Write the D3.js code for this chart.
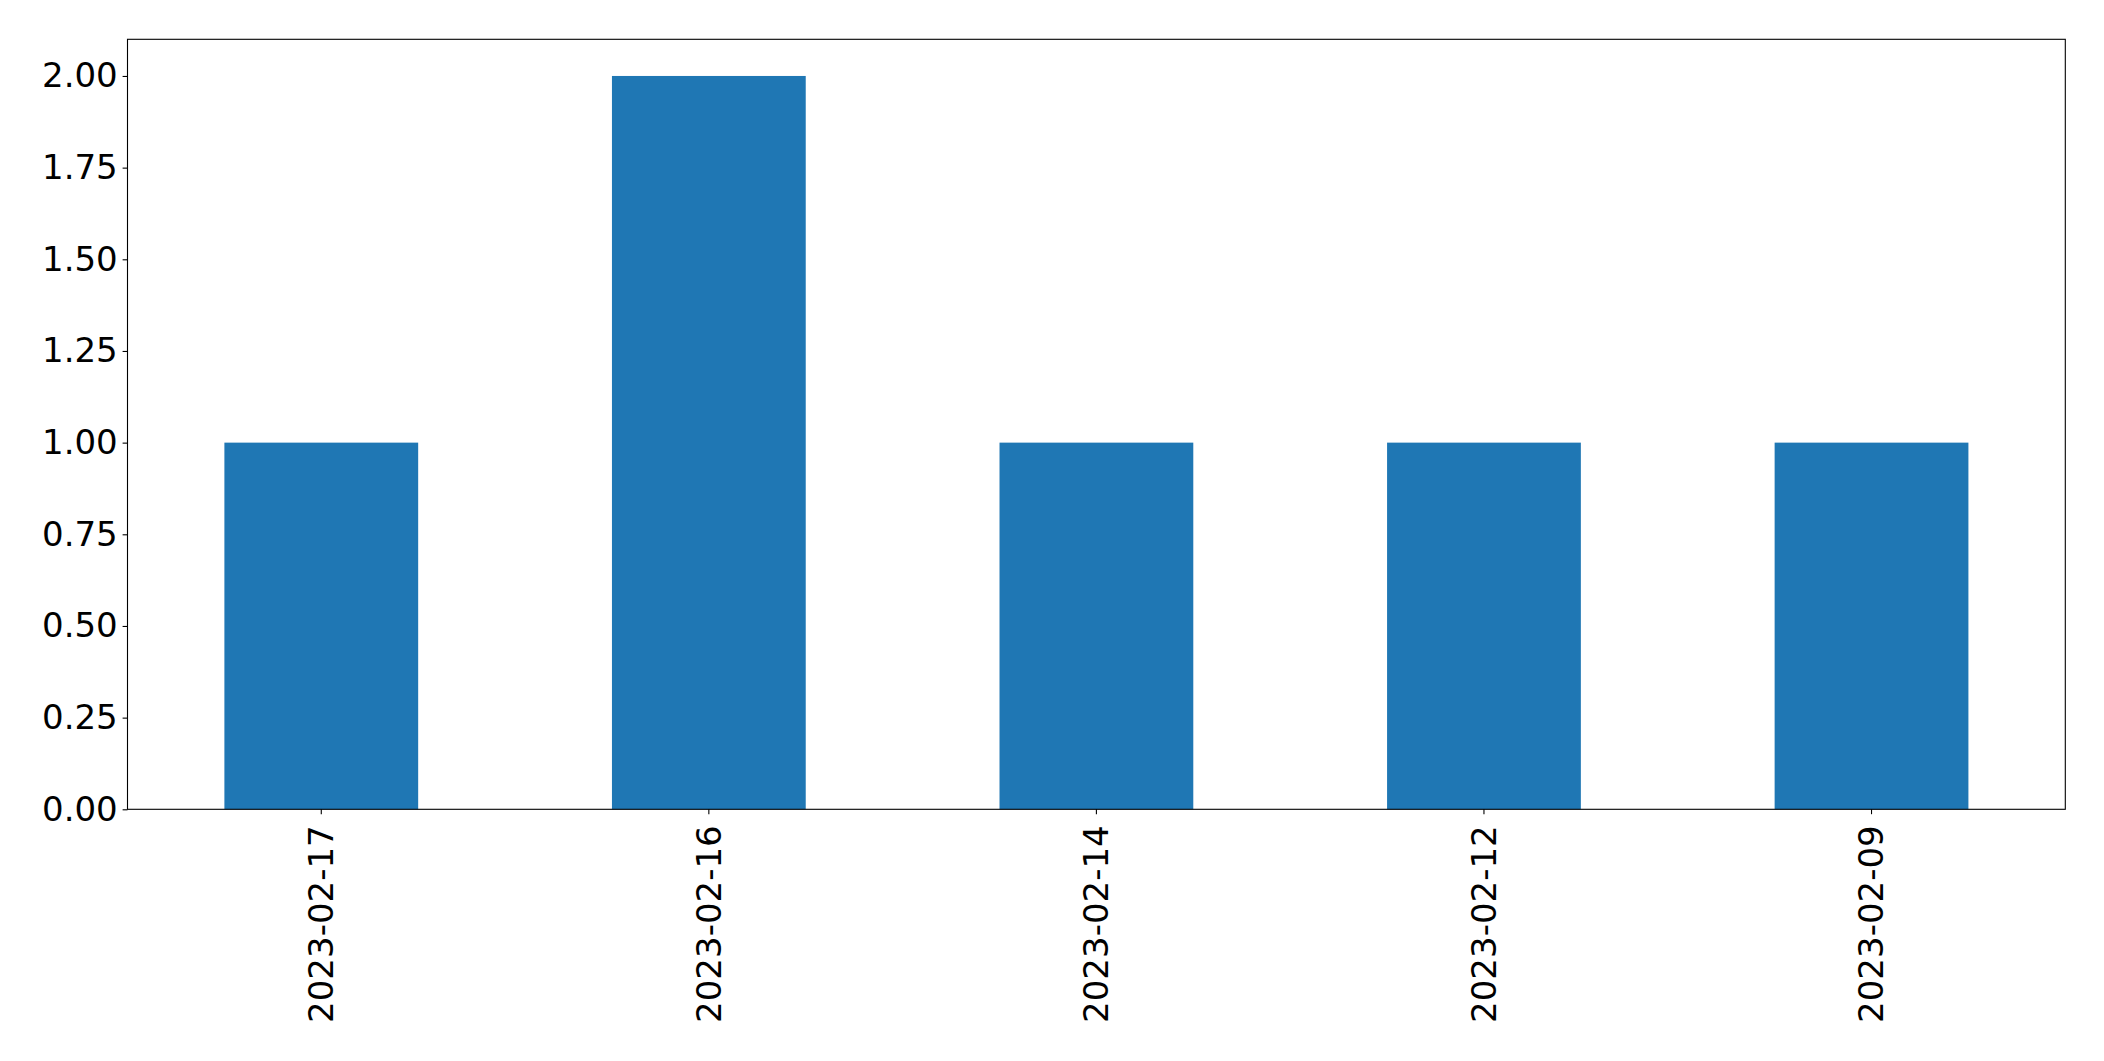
<!DOCTYPE html>
<html><head><meta charset="utf-8">
<script src="https://cdn.jsdelivr.net/npm/d3@7"></script>
<style>body{margin:0;background:#fff;} svg{display:block;}</style>
</head><body>
<script>
const categories = ["2023-02-17","2023-02-16","2023-02-14","2023-02-12","2023-02-09"];
const values = [1, 2, 1, 1, 1];
const yTicks = [0, 0.25, 0.5, 0.75, 1.0, 1.25, 1.5, 1.75, 2.0];

const W = 2104, H = 1061;
const m = {left: 127.5, top: 39.3, right: 2104 - 2065.3, bottom: 1061 - 809.3};
const svg = d3.select("body").append("svg").attr("width", W).attr("height", H);
const x = d3.scaleBand().domain(categories).range([m.left, W - m.right]).paddingInner(0.5).paddingOuter(0.25);
const y = d3.scaleLinear().domain([0, 2.1]).range([H - m.bottom, m.top]);

svg.append("g").selectAll("rect").data(values).join("rect")
  .attr("x", (d,i) => x(categories[i]))
  .attr("width", x.bandwidth())
  .attr("y", d => y(d))
  .attr("height", d => y(0) - y(d))
  .attr("fill", "#1f77b4");

const font = "DejaVu Sans";
const yAxis = svg.append("g").attr("transform", `translate(${m.left},0)`)
  .call(d3.axisLeft(y).tickValues(yTicks).tickFormat(d3.format(".2f")).tickSize(4.9).tickPadding(4.9));
const xAxis = svg.append("g").attr("transform", `translate(0,${H - m.bottom})`)
  .call(d3.axisBottom(x).tickSize(4.9).tickPadding(4.9));
[yAxis, xAxis].forEach(a => {
  a.select(".domain").remove();
  a.selectAll("line").attr("stroke", "#000").attr("stroke-width", 1.1);
  a.selectAll("text").attr("font-family", font).attr("font-size", 34).attr("fill", "#000");
});
xAxis.selectAll("text")
  .attr("transform", "rotate(-90)")
  .attr("text-anchor", "end")
  .attr("x", -16).attr("y", 0).attr("dy", "0.35em");

svg.append("rect").attr("x", m.left).attr("y", m.top)
  .attr("width", W - m.right - m.left).attr("height", H - m.bottom - m.top)
  .attr("fill", "none").attr("stroke", "#000").attr("stroke-width", 1.1);
</script>
</body></html>
